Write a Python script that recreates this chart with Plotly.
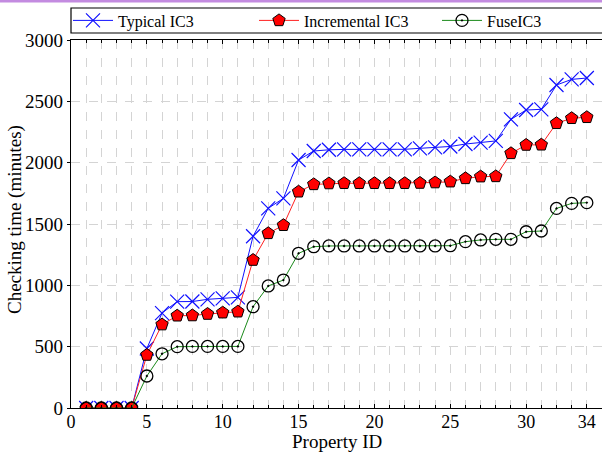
import plotly.graph_objects as go

property_id = list(range(1, 35))
typical_ic3 = [0, 0, 0, 0, 485, 774, 867, 868, 886, 894, 902, 1400, 1628, 1709, 2022, 2095,
               2105, 2108, 2108, 2108, 2108, 2109, 2117, 2125, 2132, 2152, 2163, 2177, 2353,
               2429, 2435, 2633, 2679, 2690]
incremental_ic3 = [0, 0, 0, 0, 432, 680, 752, 754, 766, 777, 785, 1206, 1424, 1490, 1763, 1823,
                   1830, 1832, 1832, 1832, 1832, 1832, 1834, 1838, 1845, 1872, 1886, 1888, 2076,
                   2144, 2146, 2321, 2362, 2370]
fuse_ic3 = [0, 0, 0, 0, 261, 442, 500, 502, 502, 502, 502, 826, 995, 1043, 1261, 1315,
            1321, 1321, 1321, 1321, 1321, 1321, 1321, 1321, 1323, 1356, 1370, 1375, 1375,
            1437, 1443, 1627, 1668, 1674]
x_ticks = [0, 5, 10, 15, 20, 25, 30, 34]
y_ticks = [0, 500, 1000, 1500, 2000, 2500, 3000]

FONT = "Liberation Serif"

fig = go.Figure()
fig.add_trace(go.Scatter(
    x=property_id, y=typical_ic3, name="Typical IC3", mode="lines+markers", legend="legend",
    line=dict(color="#1010ff", width=1),
    marker=dict(symbol="x-thin-open", size=14, color="#1010ff", line=dict(width=1.2, color="#1010ff"))))
fig.add_trace(go.Scatter(
    x=property_id, y=incremental_ic3, name="Incremental IC3", mode="lines+markers", legend="legend2",
    line=dict(color="#ff2020", width=1),
    marker=dict(symbol="pentagon", size=13, color="#ff0000", line=dict(width=1, color="black"))))
fig.add_trace(go.Scatter(
    x=property_id, y=fuse_ic3, name="FuseIC3", mode="lines+markers", legend="legend3",
    line=dict(color="#1a8a1a", width=1),
    marker=dict(symbol="circle-open-dot", size=12, color="black", line=dict(width=1.3, color="black"))))

ph = 368.0
pw = 531.0
def py(px):
    return 1 + (40 - px) / ph
def px_(p):
    return (p - 71) / pw

def leg(xpix):
    return dict(orientation="h", x=px_(xpix), xanchor="left", y=py(20.5), yanchor="middle",
                bgcolor="rgba(0,0,0,0)", borderwidth=0, font=dict(size=16, family=FONT),
                itemwidth=40)

fig.update_layout(
    width=602, height=452,
    margin=dict(l=71, r=0, t=40, b=44, autoexpand=False),
    paper_bgcolor="white", plot_bgcolor="white",
    font=dict(family=FONT, size=19, color="black"),
    showlegend=True,
    legend=leg(68),
    legend2=leg(254),
    legend3=leg(437),
    xaxis=dict(range=[0, 35], tickvals=x_ticks, ticktext=[str(v) for v in x_ticks],
               tickfont=dict(size=18, family=FONT), ticklabelstandoff=-3,
               showline=True, linecolor="black", linewidth=1.2, mirror="ticks",
               ticks="inside", ticklen=4, tickcolor="black",
               showgrid=True, gridcolor="#d4d4d4", griddash="dash", gridwidth=1,
               zeroline=False,
               minor=dict(dtick=1, tick0=0, showgrid=True, gridcolor="#d4d4d4", griddash="dash",
                          ticks="inside", ticklen=3, tickcolor="black")),
    yaxis=dict(range=[0, 3000], tickvals=y_ticks,
               showline=True, linecolor="black", linewidth=1.2,
               ticks="outside", ticklen=3, tickcolor="black",
               showgrid=True, gridcolor="#d4d4d4", griddash="dash", gridwidth=1,
               zeroline=False),
    annotations=[
        dict(text="Property ID", xref="paper", yref="paper", x=px_(337), y=py(441),
             xanchor="center", yanchor="middle", showarrow=False, borderpad=0,
             font=dict(size=19, family=FONT)),
        dict(text="Checking time (minutes)", xref="paper", yref="paper", x=px_(15), y=py(220),
             xanchor="center", yanchor="middle", textangle=-90, showarrow=False,
             font=dict(size=19, family=FONT)),
    ],
    shapes=[
        dict(type="rect", xref="paper", yref="paper", x0=0, x1=1.05, y0=py(33), y1=py(8),
             line=dict(color="black", width=1.2), fillcolor="rgba(0,0,0,0)", layer="below"),
        dict(type="rect", xref="paper", yref="paper", x0=-0.2, x1=1.05, y0=py(2.5), y1=py(-1),
             line=dict(width=0), fillcolor="#c38be0"),
    ],
)

fig.write_html("out.html", config={"displayModeBar": False},
               post_script="document.body.style.margin='0';document.body.style.overflow='hidden';")
